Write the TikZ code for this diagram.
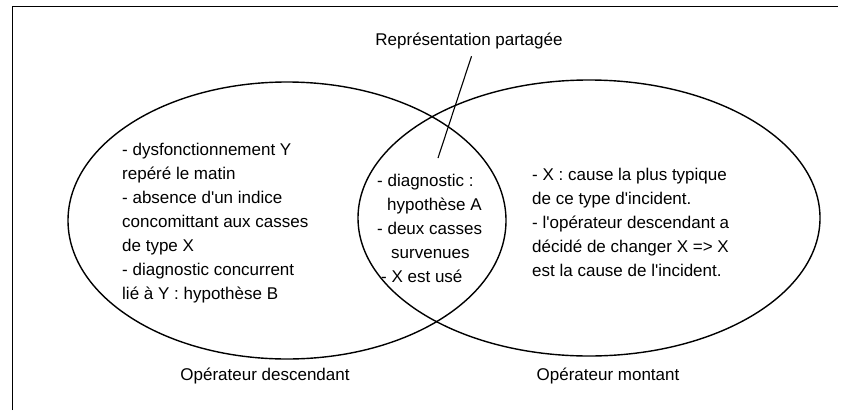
\documentclass[tikz,border=0pt]{standalone}
\usepackage{fontspec}
\setmainfont{Liberation Sans}
\newfontfamily\plainfont{Liberation Sans}
\usetikzlibrary{shapes.geometric}
\begin{document}
\begin{tikzpicture}[x=1pt,y=-1pt,
  txt/.style={inner sep=0pt, align=left, font=\plainfont\fontsize{17}{24}\selectfont},
  lbl/.style={inner sep=0pt, font=\plainfont\fontsize{17}{20}\selectfont},
  set/.style={draw, ellipse, line width=1.4pt, inner sep=0pt},
  frameline/.style={line width=0.8pt},
  pointer/.style={line width=1.1pt}]
\useasboundingbox (0,0) rectangle (842,410);
\fill[white] (0,0) rectangle (842,410);
\coordinate (fb) at (12.5,410);
\coordinate (fc) at (12.5,6);
\coordinate (fe) at (838,6);
\draw[frameline] (fb) -- (fc) -- (fe);
\node[set, minimum width=438pt, minimum height=277pt] (left) at (287,220.5) {};
\node[set, minimum width=462pt, minimum height=276pt] (right) at (589,218) {};
\node[lbl] (rep) at (469,41) {Représentation partagée};
\coordinate (tip) at (438,158);
\draw[pointer] ([xshift=2.5pt,yshift=-7pt]rep.south) -- (tip);
\node[txt, anchor=west] (ltxt) at (122,223) {- dysfonctionnement Y\\repéré le matin\\- absence d'un indice\\concomittant aux casses\\de type X\\- diagnostic concurrent\\lié à Y : hypothèse B};
\node[txt, anchor=west] (mtxt) at (377,228) {- diagnostic :\\\hspace*{10pt}hypothèse A\\- deux casses\\\hspace*{14pt}survenues\\\hspace*{4pt}- X est usé};
\node[txt, anchor=west] (rtxt) at (532,222.5) {- X : cause la plus typique\\de ce type d'incident.\\- l'opérateur descendant a\\décidé de changer X => X\\est la cause de l'incident.};
\node[lbl] (opd) at (265,376) {Opérateur descendant};
\node[lbl] (opm) at (608,376) {Opérateur montant};
\end{tikzpicture}
\end{document}
